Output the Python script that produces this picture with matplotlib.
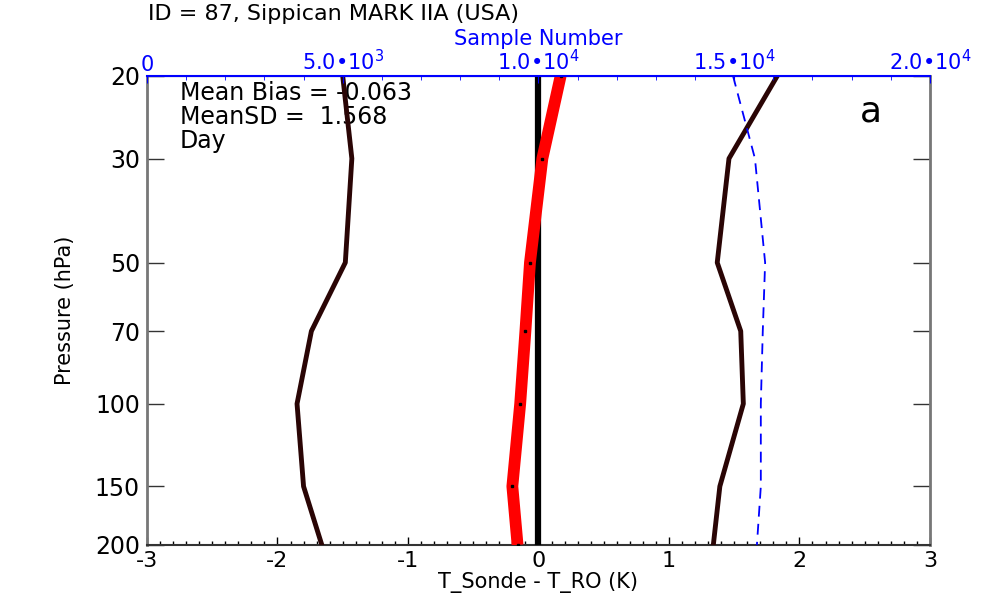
import matplotlib
matplotlib.use("Agg")
import matplotlib.pyplot as plt
from matplotlib.ticker import FixedLocator, MultipleLocator

plt.rcParams['font.family'] = ['DejaVu Sans']
plt.rcParams['mathtext.fontset'] = 'dejavusans'

pressure = [20, 30, 50, 70, 100, 150, 200]
mean_bias = [0.17, 0.03, -0.065, -0.10, -0.14, -0.20, -0.16]
bias_minus_sd = [-1.50, -1.43, -1.48, -1.74, -1.85, -1.80, -1.66]
bias_plus_sd = [1.83, 1.46, 1.37, 1.55, 1.57, 1.39, 1.34]
sample_number = [14970, 15530, 15790, 15730, 15680, 15680, 15580]

p_ticks = [20, 30, 50, 70, 100, 150, 200]
x_ticks = [-3, -2, -1, 0, 1, 2, 3]
top_ticks = [0, 5000, 10000, 15000, 20000]
top_labels = ["0", r"5.0•10$^{3}$", r"1.0•10$^{4}$", r"1.5•10$^{4}$", r"2.0•10$^{4}$"]

FS = 17

fig = plt.figure(figsize=(9.93, 5.99), dpi=100)
ax = fig.add_axes([0.148, 0.0902, 0.7885, 0.783])

ax.set_yscale('log')
ax.set_ylim(200, 20)
ax.set_xlim(-3, 3)

ax.axvline(0, color='black', lw=4.5, zorder=3)
ax.plot(mean_bias, pressure, color='red', lw=8.5, zorder=4, solid_capstyle='butt')
ax.plot(mean_bias, pressure, ls='none', marker='s', ms=1.8, color='black', zorder=5)
ax.plot(bias_minus_sd, pressure, color='#2a0505', lw=3.5, zorder=4)
ax.plot(bias_plus_sd, pressure, color='#2a0505', lw=3.5, zorder=4)

ax.yaxis.set_major_locator(FixedLocator(p_ticks))
ax.yaxis.set_minor_locator(FixedLocator([]))
ax.set_yticklabels([str(p) for p in p_ticks], fontsize=FS)
ax.xaxis.set_major_locator(FixedLocator(x_ticks))
ax.xaxis.set_minor_locator(MultipleLocator(0.1))
ax.set_xticklabels([str(x) for x in x_ticks], fontsize=16)
ax.tick_params(axis='y', which='major', direction='in', length=12, width=1, right=True, color='#333333', pad=5)
ax.tick_params(axis='x', which='major', direction='in', length=6, width=1, top=False, pad=4)
ax.tick_params(axis='x', which='minor', direction='in', length=3, width=1, top=False)

ax.set_xlabel("T_Sonde - T_RO (K)", fontsize=15, labelpad=1)
ax.set_ylabel("Pressure (hPa)", fontsize=15, labelpad=14)

for side in ['left', 'right']:
    ax.spines[side].set_color('#777777')
    ax.spines[side].set_linewidth(2)
ax.spines['bottom'].set_color('#333333')
ax.spines['bottom'].set_linewidth(1.5)

ax2 = ax.twiny()
ax2.set_xlim(0, 20000)
ax2.plot(sample_number, pressure, color='blue', lw=1.3, ls=(0, (6, 4)), zorder=2)
ax2.xaxis.set_major_locator(FixedLocator(top_ticks))
ax2.xaxis.set_minor_locator(MultipleLocator(1000))
ax2.set_xticklabels(top_labels, fontsize=15, color='blue')
ax2.tick_params(axis='x', which='major', direction='in', length=5, color='blue', pad=1)
ax2.tick_params(axis='x', which='minor', direction='in', length=3, color='blue')
ax2.spines['top'].set_color('blue')
ax2.spines['top'].set_linewidth(1.5)
for side in ['left', 'right', 'bottom']:
    ax2.spines[side].set_visible(False)
ax2.set_xlabel("Sample Number", fontsize=15, color='blue', labelpad=3)

fig.text(0.149, 0.977, "ID = 87, Sippican MARK IIA (USA)", fontsize=16, ha='left', va='center')
ax.text(0.042, 0.99, "Mean Bias = -0.063\nMeanSD =  1.568\nDay", transform=ax.transAxes,
        fontsize=FS, va='top', ha='left', linespacing=1.0)
ax.text(0.925, 0.96, "a", transform=ax.transAxes, fontsize=26, va='top', ha='center')

fig.savefig("out.png", dpi=100)
